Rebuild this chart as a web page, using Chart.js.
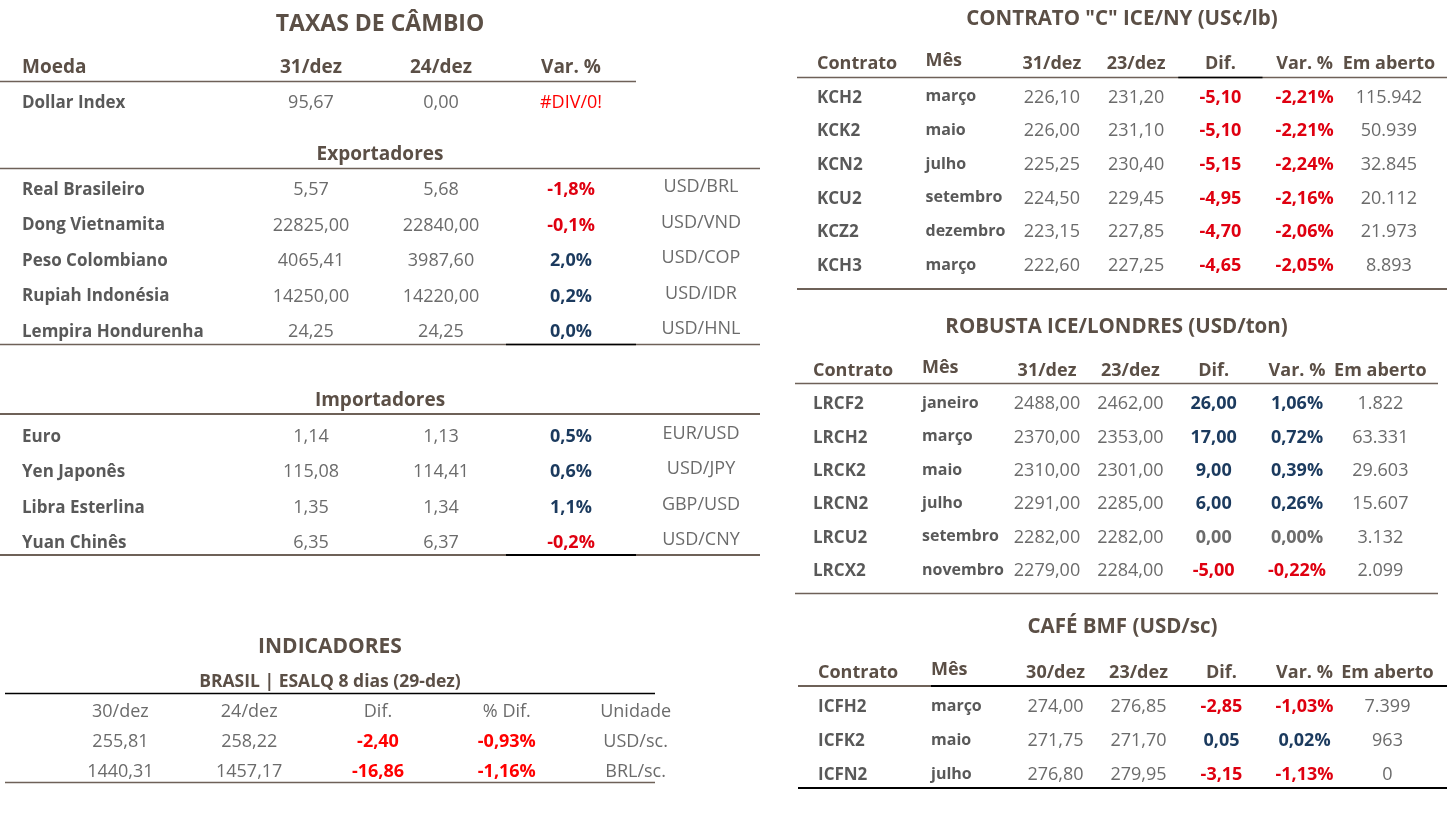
<!DOCTYPE html>
<html lang="pt-BR">
<head>
<meta charset="utf-8">
<title>Câmbio e café</title>
<script src="https://cdn.jsdelivr.net/npm/chart.js@4.4.1/dist/chart.umd.min.js"></script>
<style>
  html, body { margin: 0; padding: 0; background: #fff; }
  #painel { position: relative; width: 1449px; height: 814px; overflow: hidden; }
  .bloco { position: absolute; }
</style>
</head>
<body>
<div id="painel">
  <div class="bloco" style="left:0;top:0;width:766px;height:132px"><canvas id="taxasTopo"></canvas></div>
  <div class="bloco" style="left:0;top:130px;width:766px;height:232px"><canvas id="exportadores"></canvas></div>
  <div class="bloco" style="left:0;top:376px;width:766px;height:196px"><canvas id="importadores"></canvas></div>
  <div class="bloco" style="left:0;top:620px;width:705px;height:170px"><canvas id="indicadores"></canvas></div>
  <div class="bloco" style="left:797px;top:0;width:650px;height:295px"><canvas id="contratoC"></canvas></div>
  <div class="bloco" style="left:795px;top:300px;width:643px;height:300px"><canvas id="robusta"></canvas></div>
  <div class="bloco" style="left:798px;top:600px;width:649px;height:206px"><canvas id="cafeBmf"></canvas></div>
</div>
<script>
// ---- dados: taxas de câmbio ----
const taxasColunas = ['31/dez', '24/dez', 'Var. %'];
const dollarNome = ['Dollar Index'];
const dollarAtual = [95.67];
const dollarAnterior = [0.00];
const dollarVar = ['#DIV/0!'];

const expNomes = ['Real Brasileiro', 'Dong Vietnamita', 'Peso Colombiano', 'Rupiah Indonésia', 'Lempira Hondurenha'];
const expAtual = [5.57, 22825.00, 4065.41, 14250.00, 24.25];
const expAnterior = [5.68, 22840.00, 3987.60, 14220.00, 24.25];
const expVar = [-1.8, -0.1, 2.0, 0.2, 0.0];
const expPares = ['USD/BRL', 'USD/VND', 'USD/COP', 'USD/IDR', 'USD/HNL'];

const impNomes = ['Euro', 'Yen Japonês', 'Libra Esterlina', 'Yuan Chinês'];
const impAtual = [1.14, 115.08, 1.35, 6.35];
const impAnterior = [1.13, 114.41, 1.34, 6.37];
const impVar = [0.5, 0.6, 1.1, -0.2];
const impPares = ['EUR/USD', 'USD/JPY', 'GBP/USD', 'USD/CNY'];

// ---- dados: indicadores ----
const indColunas = ['30/dez', '24/dez', 'Dif.', '% Dif.', 'Unidade'];
const indAtual = [255.81, 1440.31];
const indAnterior = [258.22, 1457.17];
const indDif = [-2.40, -16.86];
const indVar = [-0.93, -1.16];
const indUnidade = ['USD/sc.', 'BRL/sc.'];

// ---- dados: contrato "C" ICE/NY ----
const kcColunas = ['Mês', '31/dez', '23/dez', 'Dif.', 'Var. %', 'Em aberto'];
const kcContratos = ['KCH2', 'KCK2', 'KCN2', 'KCU2', 'KCZ2', 'KCH3'];
const kcMeses = ['março', 'maio', 'julho', 'setembro', 'dezembro', 'março'];
const kcAtual = [226.10, 226.00, 225.25, 224.50, 223.15, 222.60];
const kcAnterior = [231.20, 231.10, 230.40, 229.45, 227.85, 227.25];
const kcDif = [-5.10, -5.10, -5.15, -4.95, -4.70, -4.65];
const kcVar = [-2.21, -2.21, -2.24, -2.16, -2.06, -2.05];
const kcAberto = [115942, 50939, 32845, 20112, 21973, 8893];

// ---- dados: robusta ICE/Londres ----
const lrColunas = ['Mês', '31/dez', '23/dez', 'Dif.', 'Var. %', 'Em aberto'];
const lrContratos = ['LRCF2', 'LRCH2', 'LRCK2', 'LRCN2', 'LRCU2', 'LRCX2'];
const lrMeses = ['janeiro', 'março', 'maio', 'julho', 'setembro', 'novembro'];
const lrAtual = [2488, 2370, 2310, 2291, 2282, 2279];
const lrAnterior = [2462, 2353, 2301, 2285, 2282, 2284];
const lrDif = [26, 17, 9, 6, 0, -5];
const lrVar = [1.06, 0.72, 0.39, 0.26, 0.00, -0.22];
const lrAberto = [1822, 63331, 29603, 15607, 3132, 2099];

// ---- dados: café BMF ----
const icfColunas = ['Mês', '30/dez', '23/dez', 'Dif.', 'Var. %', 'Em aberto'];
const icfContratos = ['ICFH2', 'ICFK2', 'ICFN2'];
const icfMeses = ['março', 'maio', 'julho'];
const icfAtual = [274.00, 271.75, 276.80];
const icfAnterior = [276.85, 271.70, 279.95];
const icfDif = [-2.85, 0.05, -3.15];
const icfVar = [-1.03, 0.02, -1.13];
const icfAberto = [7399, 963, 0];

// ---- estilo ----
const FONTE = "'Open Sans', Lato, sans-serif";
const COR_TITULO = '#5b4f46';
const COR_NOME = '#595959';
const COR_VALOR = '#6b6b6b';
const COR_NEG = '#df0010';
const COR_POS = '#1b3a5e';
const COR_LINHA = '#6e6158';
const TEXTO_DY = 2; // o 'middle' do Open Sans fica um pouco alto

const ESTILOS = {
  hdr:  { font: `bold 19px ${FONTE}`, color: COR_TITULO },
  hdrR: { font: `bold 18px ${FONTE}`, color: COR_TITULO },
  mes:  { font: `bold 16px ${FONTE}`, color: COR_NOME },
  val:  { font: `18px ${FONTE}`, color: COR_VALOR },
  neg:  { font: `bold 18px ${FONTE}`, color: COR_NEG },
  pos:  { font: `bold 18px ${FONTE}`, color: COR_POS },
  zero: { font: `bold 18px ${FONTE}`, color: COR_VALOR },
  negInd: { font: `bold 18px ${FONTE}`, color: '#ff0000' },
  erro: { font: `18px ${FONTE}`, color: '#ff0000' }
};

// formatos brasileiros
const num = (v, d) => v.toFixed(d).replace('.', ',');
const pct = (v, d) => num(v, d) + '%';
const milhar = v => String(Math.round(v)).replace(/\B(?=(\d{3})+(?!\d))/g, '.');
const sinal = (v, zero) => v < 0 ? 'neg' : v > 0 ? 'pos' : zero;

// specs de cada tabela, por id do canvas
const TABELAS = {};

const tabelaPlugin = {
  id: 'tabela',
  afterDraw(chart) {
    const spec = TABELAS[chart.canvas.id];
    if (!spec) return;
    const { ctx } = chart;
    const x = chart.scales.x, y = chart.scales.y;
    const banda = x.getPixelForValue(1) - x.getPixelForValue(0);
    const passo = y.getPixelForValue(1) - y.getPixelForValue(0);
    const [s0, s1] = spec.faixa || [0, chart.width];
    const borda = e => e === 'ini' ? s0 : e === 'fim' ? s1 : e === 'eixo' ? y.right
      : x.getPixelForValue(e.col) + e.lado * banda / 2;

    ctx.save();
    ctx.textBaseline = 'middle';

    (spec.titulos || []).forEach(t => {
      ctx.textAlign = 'center';
      ctx.font = t.font;
      ctx.fillStyle = COR_TITULO;
      ctx.fillText(t.texto, (s0 + s1) / 2, t.y + TEXTO_DY);
    });

    spec.celulas.forEach((linha, r) => linha.forEach((cel, c) => {
      if (!cel) return;
      const st = ESTILOS[cel.s];
      ctx.font = st.font;
      ctx.fillStyle = st.color;
      let cx = x.getPixelForValue(c);
      if (spec.esquerda && spec.esquerda[c]) {
        ctx.textAlign = 'left';
        cx -= banda / 2;
      } else {
        ctx.textAlign = 'center';
      }
      ctx.fillText(cel.t, cx, y.getPixelForValue(r) + TEXTO_DY + (cel.dy || 0));
    }));

    spec.linhas.forEach(l => {
      const ly = Math.round(y.getPixelForValue(l.row) + l.dy * passo) + (l.w % 2 ? 0.5 : 0);
      ctx.strokeStyle = l.cor;
      ctx.lineWidth = l.w;
      ctx.beginPath();
      ctx.moveTo(borda(l.de), ly);
      ctx.lineTo(borda(l.ate), ly);
      ctx.stroke();
    });
    ctx.restore();
  }
};

function criarTabela(id, colunas, linhas, nomesLargura, padding, spec) {
  TABELAS[id] = spec;
  const temNomes = nomesLargura > 0;
  new Chart(document.getElementById(id), {
    type: 'line',
    data: { labels: colunas, datasets: [] },
    options: {
      responsive: true,
      maintainAspectRatio: false,
      animation: false,
      events: [],
      layout: { padding: padding },
      plugins: { legend: { display: false }, tooltip: { enabled: false }, title: { display: false } },
      scales: {
        x: { type: 'category', offset: true, display: false },
        y: {
          type: 'category',
          labels: linhas,
          offset: true,
          display: temNomes,
          position: 'left',
          grid: { display: false, drawTicks: false },
          border: { display: false },
          ticks: {
            autoSkip: false,
            padding: 0,
            labelOffset: TEXTO_DY,
            crossAlign: 'far',
            font: c => (spec.cabecalho && c.index === 0)
              ? { family: FONTE, size: spec.cabecalho, weight: 'bold' }
              : { family: FONTE, size: 17, weight: 'bold' },
            color: c => (spec.cabecalho && c.index === 0) ? COR_TITULO : COR_NOME
          },
          afterFit: s => { s.width = nomesLargura; }
        }
      }
    },
    plugins: [tabelaPlugin]
  });
}

// ---- taxas de câmbio: topo ----
criarTabela('taxasTopo', [...taxasColunas, ''], ['Moeda', ...dollarNome], 224,
  { left: 22, right: 0, top: 48.5, bottom: 13.5 },
  {
    cabecalho: 19,
    faixa: [0, 760],
    titulos: [{ texto: 'TAXAS DE CÂMBIO', y: 22, font: `bold 23px ${FONTE}` }],
    celulas: [
      taxasColunas.map(t => ({ t, s: 'hdr' })),
      dollarNome.map((_, i) => [
        { t: num(dollarAtual[i], 2), s: 'val' },
        { t: num(dollarAnterior[i], 2), s: 'val' },
        { t: dollarVar[i], s: 'erro' }
      ])[0]
    ],
    linhas: [{ row: 0, dy: 0.42, de: 'ini', ate: { col: 2, lado: 1 }, cor: COR_LINHA, w: 1.5 }]
  });

function linhasMoedas(atual, anterior, varia, pares) {
  return atual.map((v, i) => [
    { t: num(v, 2), s: 'val' },
    { t: num(anterior[i], 2), s: 'val' },
    { t: pct(varia[i], 1), s: sinal(varia[i], 'pos') },
    { t: pares[i], s: 'val', dy: -3 }
  ]);
}

criarTabela('exportadores', [...taxasColunas, ''], expNomes, 224,
  { left: 22, right: 0, top: 40.25, bottom: 14.25 },
  {
    faixa: [0, 760],
    titulos: [{ texto: 'Exportadores', y: 23, font: `bold 19px ${FONTE}` }],
    celulas: linhasMoedas(expAtual, expAnterior, expVar, expPares),
    linhas: [
      { row: 0, dy: -0.56, de: 'ini', ate: 'fim', cor: COR_LINHA, w: 1.5 },
      { row: expNomes.length - 1, dy: 0.4, de: 'ini', ate: 'fim', cor: COR_LINHA, w: 1.5 },
      { row: expNomes.length - 1, dy: 0.4, de: { col: 2, lado: -1 }, ate: { col: 2, lado: 1 }, cor: '#000', w: 1.5 }
    ]
  });

criarTabela('importadores', [...taxasColunas, ''], impNomes, 224,
  { left: 22, right: 0, top: 41.35, bottom: 13.35 },
  {
    faixa: [0, 760],
    titulos: [{ texto: 'Importadores', y: 23, font: `bold 19px ${FONTE}` }],
    celulas: linhasMoedas(impAtual, impAnterior, impVar, impPares),
    linhas: [
      { row: 0, dy: -0.6, de: 'ini', ate: 'fim', cor: COR_LINHA, w: 2 },
      { row: impNomes.length - 1, dy: 0.4, de: 'ini', ate: 'fim', cor: COR_LINHA, w: 2 },
      { row: impNomes.length - 1, dy: 0.4, de: { col: 2, lado: -1 }, ate: { col: 2, lado: 1 }, cor: '#000', w: 2 }
    ]
  });

// ---- indicadores ----
criarTabela('indicadores', indColunas, ['cab', ...indUnidade], 0,
  { left: 56, right: 5, top: 75, bottom: 5 },
  {
    faixa: [5, 655],
    titulos: [
      { texto: 'INDICADORES', y: 25, font: `bold 21px ${FONTE}` },
      { texto: 'BRASIL | ESALQ 8 dias (29-dez)', y: 60, font: `bold 17.5px ${FONTE}` }
    ],
    celulas: [
      indColunas.map(t => ({ t, s: 'val' })),
      ...indAtual.map((v, i) => [
        { t: num(v, 2), s: 'val' },
        { t: num(indAnterior[i], 2), s: 'val' },
        { t: num(indDif[i], 2), s: indDif[i] < 0 ? 'negInd' : 'pos' },
        { t: pct(indVar[i], 2), s: indVar[i] < 0 ? 'negInd' : 'pos' },
        { t: indUnidade[i], s: 'val' }
      ])
    ],
    linhas: [
      { row: 0, dy: -0.57, de: 'ini', ate: 'fim', cor: '#000', w: 1.5 },
      { row: indAtual.length, dy: 0.4, de: 'ini', ate: 'fim', cor: COR_LINHA, w: 1.5 }
    ]
  });

// ---- contratos futuros ----
function linhasContratos(colunas, meses, atual, anterior, dif, varia, aberto, zero) {
  return [
    colunas.map((t, c) => ({ t, s: 'hdrR', dy: c === 0 ? -3 : 0 })),
    ...meses.map((m, i) => [
      { t: m, s: 'mes', dy: -1 },
      { t: num(atual[i], 2), s: 'val' },
      { t: num(anterior[i], 2), s: 'val' },
      { t: num(dif[i], 2), s: sinal(dif[i], zero) },
      { t: pct(varia[i], 2), s: sinal(varia[i], zero) },
      { t: milhar(aberto[i]), s: 'val' }
    ])
  ];
}

criarTabela('contratoC', kcColunas, ['Contrato', ...kcContratos], 108.5,
  { left: 20, right: 16, top: 45.2, bottom: 14.2 },
  {
    cabecalho: 18,
    esquerda: [true],
    titulos: [{ texto: 'CONTRATO "C" ICE/NY (US¢/lb)', y: 17, font: `bold 20.5px ${FONTE}` }],
    celulas: linhasContratos(kcColunas, kcMeses, kcAtual, kcAnterior, kcDif, kcVar, kcAberto, 'zero'),
    linhas: [
      { row: 0, dy: 0.45, de: 'ini', ate: 'fim', cor: COR_LINHA, w: 1.5 },
      { row: 0, dy: 0.45, de: { col: 3, lado: -1 }, ate: { col: 3, lado: 1 }, cor: '#000', w: 1.5 },
      { row: kcMeses.length, dy: 0.74, de: 'ini', ate: 'fim', cor: COR_LINHA, w: 2 }
    ]
  });

criarTabela('robusta', lrColunas, ['Contrato', ...lrContratos], 109,
  { left: 18, right: 16, top: 52.3, bottom: 14.3 },
  {
    cabecalho: 18,
    esquerda: [true],
    titulos: [{ texto: 'ROBUSTA ICE/LONDRES (USD/ton)', y: 25, font: `bold 20.5px ${FONTE}` }],
    celulas: linhasContratos(lrColunas, lrMeses, lrAtual, lrAnterior, lrDif, lrVar, lrAberto, 'zero'),
    linhas: [
      { row: 0, dy: 0.42, de: 'ini', ate: 'fim', cor: COR_LINHA, w: 1.5 },
      { row: lrMeses.length, dy: 0.72, de: 'ini', ate: 'fim', cor: COR_LINHA, w: 1.5 }
    ]
  });

criarTabela('cafeBmf', icfColunas, ['Contrato', ...icfContratos], 113,
  { left: 20, right: 18, top: 54, bottom: 16 },
  {
    cabecalho: 18,
    esquerda: [true],
    titulos: [{ texto: 'CAFÉ BMF (USD/sc)', y: 25, font: `bold 20.5px ${FONTE}` }],
    celulas: linhasContratos(icfColunas, icfMeses, icfAtual, icfAnterior, icfDif, icfVar, icfAberto, 'zero'),
    linhas: [
      { row: 0, dy: 0.44, de: 'ini', ate: 'fim', cor: '#000', w: 2 },
      { row: 0, dy: 0.44, de: 'ini', ate: 'eixo', cor: COR_LINHA, w: 2 },
      { row: icfMeses.length, dy: 0.44, de: 'ini', ate: 'fim', cor: '#000', w: 2 }
    ]
  });
</script>
</body>
</html>
